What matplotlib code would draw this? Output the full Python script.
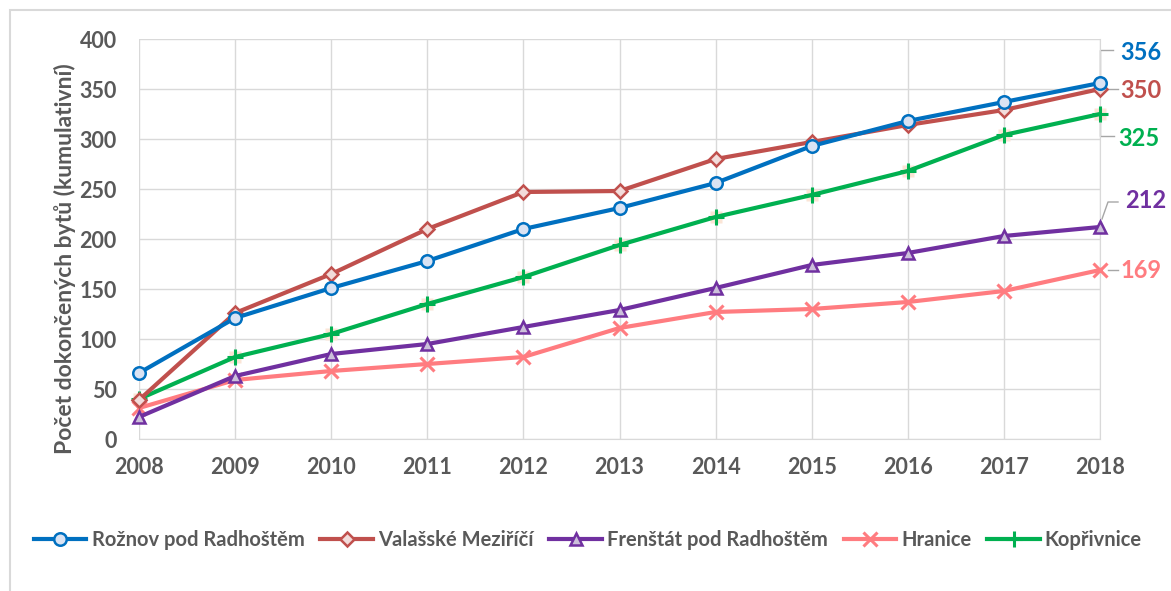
import matplotlib.pyplot as plt
from matplotlib.patches import Rectangle

plt.rcParams['font.family'] = ['Lato', 'DejaVu Sans']
plt.rcParams['font.weight'] = 'bold'

years = list(range(2008, 2019))
series_names = ['Rožnov pod Radhoštěm', 'Valašské Meziříčí', 'Frenštát pod Radhoštěm',
                'Hranice', 'Kopřivnice']
roznov = [66, 121, 151, 178, 210, 231, 256, 293, 318, 337, 356]
valmez = [39, 126, 165, 210, 247, 248, 280, 297, 314, 329, 350]
frenstat = [22, 63, 85, 95, 112, 129, 151, 174, 186, 203, 212]
hranice = [31, 59, 68, 75, 82, 111, 127, 130, 137, 148, 169]
koprivnice = [40, 82, 105, 135, 162, 194, 222, 244, 268, 304, 325]

colors = ['#0070C0', '#C0504D', '#7030A0', '#FF7C80', '#00B050']
fills = ['#DAE3F3', '#F2DCDB', '#CCC0DA', '#FF7C80', '#00B050']
markers = ['o', 'D', '^', 'x', '+']
msizes = [9, 7, 9, 10, 11]
values = [roznov, valmez, frenstat, hranice, koprivnice]
grey = '#595959'

fig = plt.figure(figsize=(11.71, 5.91), dpi=100)
ax = fig.add_axes([139 / 1171, 1 - 439 / 591, 961 / 1171, 400 / 591])

# outer frame of the chart area (partly cut off in the original)
fig.patches.append(Rectangle((10 / 1171, -0.1), 1.2, 1 - 10 / 591 + 0.1,
                             transform=fig.transFigure, fill=False,
                             edgecolor='#D9D9D9', linewidth=1.5))

lines = {}
for i in [4, 3, 2, 1, 0]:
    if markers[i] == '+':
        # light square behind the plus markers, as in the original
        ax.plot(years, values[i], linestyle='none', marker='s', markersize=8,
                markerfacecolor='#FBE5D6', markeredgecolor='none',
                zorder=3 + (4 - i) * 0.1, clip_on=False)
    ln, = ax.plot(years, values[i], color=colors[i], linewidth=3,
                  marker=markers[i], markersize=msizes[i],
                  markerfacecolor=fills[i], markeredgecolor=colors[i],
                  markeredgewidth=1.8 if markers[i] in 'oD^' else 2.2,
                  label=series_names[i], zorder=3 + (4 - i) * 0.1, clip_on=False)
    lines[i] = ln

ax.set_xlim(2008, 2018)
ax.set_ylim(0, 400)
ax.set_xticks(years)
ax.set_yticks(range(0, 401, 50))
ax.grid(True, color='#D9D9D9', linewidth=1)
ax.set_axisbelow(True)
for s in ['top', 'left']:
    ax.spines[s].set_visible(False)
ax.spines['right'].set_color('#D9D9D9')
ax.spines['bottom'].set_color('#D9D9D9')
ax.tick_params(length=0, labelsize=15.5, labelcolor=grey)
ax.tick_params(axis='x', pad=13)
ax.tick_params(axis='y', pad=16)
ax.set_ylabel('Počet dokončených bytů (kumulativní)', fontsize=16.5,
              fontweight='bold', color=grey)
ax.yaxis.set_label_coords(-0.066, 0.45)

# end labels with leader lines
px = 1 / 96.1  # one pixel in years
last = [v[-1] for v in values]
leaders = {
    0: ([0, 0, 13], [8, 33, 33], 20, 30),
    1: ([8, 18], [0, 0], 20, -2),
    2: ([2, 8, 18], [8, 25, 25], 25, 26),
    3: ([8, 18], [0, 0], 20, 0),
    4: ([0, 0, 14], [-8, -22, -22], 18, -24),
}
for i, (lx, ly, tx, ty) in leaders.items():
    ax.plot([2018 + a * px for a in lx], [last[i] + b for b in ly],
            color='#A6A6A6', linewidth=1, clip_on=False, zorder=2)
    ax.text(2018 + tx * px, last[i] + ty, str(last[i]), color=colors[i],
            fontsize=17, fontweight='bold', va='center', ha='left')

handles = [lines[i] for i in range(5)]
fig.legend(handles, series_names, loc='center left',
           bbox_to_anchor=(16 / 1171, 1 - 540 / 591), ncol=5, frameon=False,
           fontsize=14.5, handlelength=2.6, handletextpad=0.25,
           columnspacing=0.8, labelcolor=grey)

fig.savefig('out.png', dpi=100)
